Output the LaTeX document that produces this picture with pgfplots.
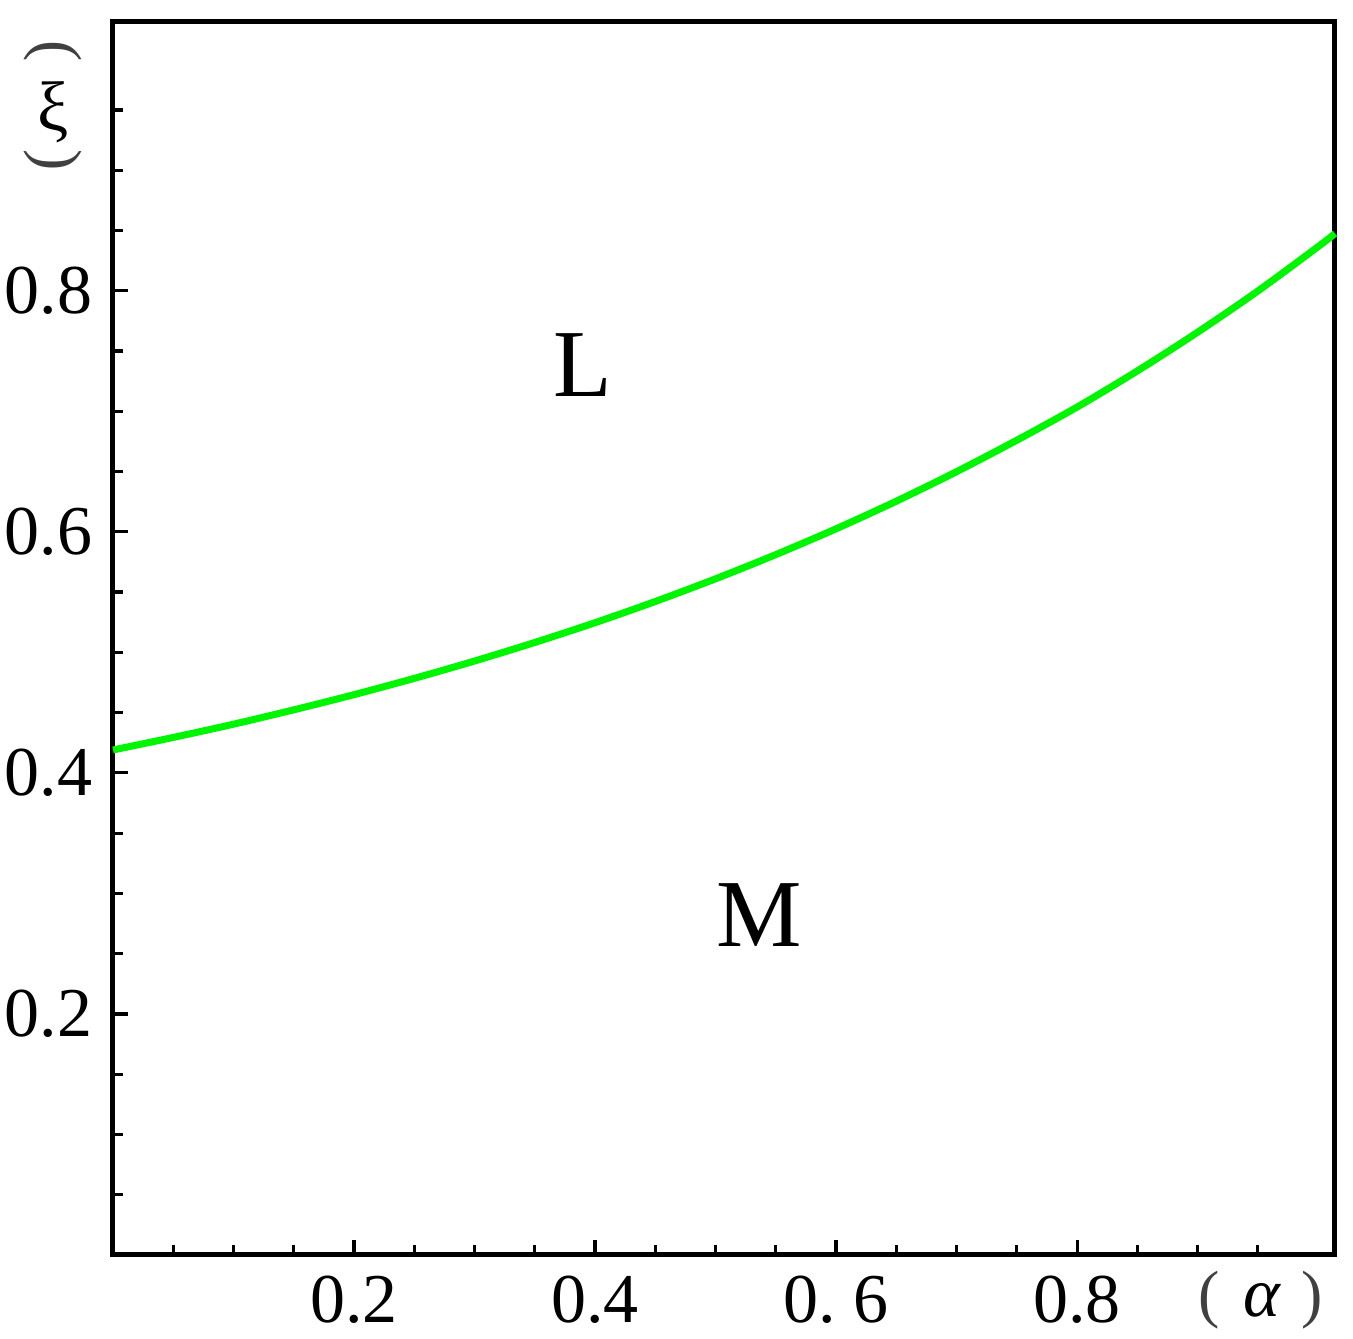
\documentclass[border=0pt]{standalone}
\usepackage{pgfplots}
\pgfplotsset{compat=1.18}
\usepackage{fontspec}
\setmainfont{Liberation Serif}
\definecolor{lgreen}{RGB}{0,245,0}
\begin{document}
\begin{tikzpicture}
\path[use as bounding box] (-28.25pt,-21pt) rectangle (310pt,313.75pt);
\begin{axis}[
  scale only axis,
  width=305.5pt, height=308.25pt,
  xmin=0, xmax=1.014, ymin=0, ymax=1.023,
  clip=false,
  axis line style={line width=1.25pt},
  xtick pos=bottom, ytick pos=left,
  tick align=inside,
  xtick={0.2,0.4,0.6,0.8},
  xticklabels={0.2,0.4,0.\ 6,0.8},
  ytick={0.2,0.4,0.6,0.8},
  yticklabels={0.2,0.4,0.6,0.8},
  minor xtick={0.05,0.1,0.15,0.25,0.3,0.35,0.45,0.5,0.55,0.65,0.7,0.75,0.85,0.9,0.95},
  minor ytick={0.05,0.1,0.15,0.25,0.3,0.35,0.45,0.5,0.55,0.65,0.7,0.75,0.85,0.9,0.95},
  major tick length=3.8pt,
  minor tick length=2.6pt,
  every tick/.append style={black, line width=0.8pt},
  xticklabel style={font=\fontsize{17.5}{20}\selectfont, inner sep=0pt, anchor=north, yshift=-5pt},
  yticklabel style={font=\fontsize{17.5}{20}\selectfont, inner sep=0pt, anchor=east, xshift=-5pt},
]
\addplot[color=lgreen, line width=1.75pt, smooth] coordinates {
(0,0.4190) (0.05,0.4294) (0.1,0.4404) (0.15,0.4523) (0.2,0.4649) (0.25,0.4784)
(0.3,0.4928) (0.35,0.5082) (0.4,0.5246) (0.45,0.5422) (0.5,0.5610) (0.55,0.5811)
(0.6,0.6025) (0.65,0.6254) (0.7,0.6499) (0.75,0.6760) (0.8,0.7035) (0.85,0.7335)
(0.9,0.7656) (0.95,0.7998) (1.0,0.8366) (1.014,0.8475)
};
\node[font=\fontsize{24}{28}\selectfont, inner sep=0pt] at (axis cs:0.39,0.738) {L};
\node[font=\fontsize{24}{28}\selectfont, inner sep=0pt] at (axis cs:0.536,0.282) {M};
% y label (vertical)
\node[font=\fontsize{16}{18}\selectfont, inner sep=0pt, rotate=-90, text=black!75] at (axis cs:-0.0498,0.999) {(};
\node[font=\fontsize{17.5}{20}\selectfont, inner sep=0pt] at (axis cs:-0.0498,0.9485) {ξ};
\node[font=\fontsize{16}{18}\selectfont, inner sep=0pt, rotate=-90, text=black!75] at (axis cs:-0.0498,0.908) {)};
% x label
\node[font=\fontsize{16}{18}\selectfont, inner sep=0pt, text=black!75] at (axis cs:0.9095,-0.0373) {(};
\node[font=\fontsize{17.5}{20}\selectfont, inner sep=0pt] at (axis cs:0.954,-0.0373) {\textit{α}};
\node[font=\fontsize{16}{18}\selectfont, inner sep=0pt, text=black!75] at (axis cs:0.995,-0.0373) {)};
\end{axis}
\end{tikzpicture}
\end{document}
